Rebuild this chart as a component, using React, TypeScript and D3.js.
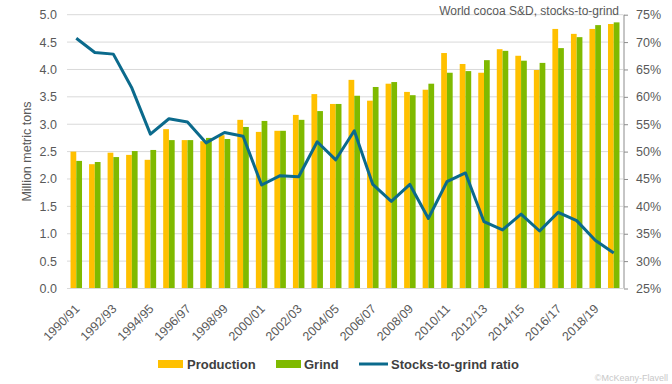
import React, { useEffect, useRef } from "react";
import * as d3 from "d3";

const seasons = [
  "1990/91", "1991/92", "1992/93", "1993/94", "1994/95", "1995/96", "1996/97", "1997/98",
  "1998/99", "1999/00", "2000/01", "2001/02", "2002/03", "2003/04", "2004/05", "2005/06",
  "2006/07", "2007/08", "2008/09", "2009/10", "2010/11", "2011/12", "2012/13", "2013/14",
  "2014/15", "2015/16", "2016/17", "2017/18", "2018/19", "2019/20",
];

const production = [
  2.5, 2.27, 2.48, 2.44, 2.35, 2.91, 2.71, 2.69, 2.8, 3.08, 2.86, 2.88, 3.17, 3.55, 3.37,
  3.81, 3.43, 3.74, 3.59, 3.63, 4.3, 4.1, 3.94, 4.37, 4.25, 3.99, 4.74, 4.65, 4.74, 4.83,
];

const grind = [
  2.33, 2.31, 2.4, 2.51, 2.53, 2.71, 2.71, 2.75, 2.73, 2.95, 3.06, 2.88, 3.08, 3.24, 3.37,
  3.52, 3.68, 3.77, 3.53, 3.74, 3.94, 3.97, 4.17, 4.34, 4.16, 4.12, 4.39, 4.59, 4.81, 4.86,
];

const stocksToGrind = [
  70.7, 68.1, 67.8, 61.6, 53.2, 56.0, 55.4, 51.6, 53.5, 52.8, 43.9, 45.6, 45.4, 51.8, 48.5,
  53.8, 44.0, 40.9, 44.0, 37.8, 44.5, 46.1, 37.2, 35.7, 38.6, 35.5, 38.9, 37.4, 33.8, 31.5,
];

const leftTicks = [0, 0.5, 1, 1.5, 2, 2.5, 3, 3.5, 4, 4.5, 5];
const rightTicks = [25, 30, 35, 40, 45, 50, 55, 60, 65, 70, 75];

const W = 672;
const H = 384;
const FONT = "'Liberation Sans', Arial, sans-serif";
const GREY = "#595959";
const C_PROD = "#FFC000";
const C_GRIND = "#7FBA00";
const C_LINE = "#0B6A8C";

export default function App() {
  const ref = useRef<SVGSVGElement>(null);

  useEffect(() => {
    const svg = d3.select(ref.current);
    svg.selectAll("*").remove();

    const left = 67;
    const right = 623;
    const top = 14.7;
    const bottom = 288.5;

    const x = d3.scaleBand().domain(seasons).range([left, right]).paddingInner(0.38).paddingOuter(0.19);
    const xs = d3.scaleBand().domain(["p", "g"]).range([0, x.bandwidth()]);
    const y = d3.scaleLinear().domain([0, 5]).range([bottom, top]);
    const y2 = d3.scaleLinear().domain([25, 75]).range([bottom, top]);

    // gridlines
    svg.append("g")
      .selectAll("line")
      .data(leftTicks.slice(1))
      .enter()
      .append("line")
      .attr("x1", left)
      .attr("x2", right)
      .attr("y1", (d) => y(d))
      .attr("y2", (d) => y(d))
      .attr("stroke", "#d9d9d9")
      .attr("stroke-width", 1);

    // bars
    const groups = svg.append("g")
      .selectAll("g")
      .data(seasons)
      .enter()
      .append("g")
      .attr("transform", (d) => `translate(${x(d)},0)`);

    groups.append("rect")
      .attr("x", xs("p")!)
      .attr("width", xs.bandwidth())
      .attr("y", (d, i) => y(production[i]))
      .attr("height", (d, i) => bottom - y(production[i]))
      .attr("fill", C_PROD);

    groups.append("rect")
      .attr("x", xs("g")!)
      .attr("width", xs.bandwidth())
      .attr("y", (d, i) => y(grind[i]))
      .attr("height", (d, i) => bottom - y(grind[i]))
      .attr("fill", C_GRIND);

    // baseline
    svg.append("line")
      .attr("x1", left)
      .attr("x2", right)
      .attr("y1", bottom)
      .attr("y2", bottom)
      .attr("stroke", "#d9d9d9");

    // line
    const line = d3.line<number>()
      .x((d, i) => x(seasons[i])! + x.bandwidth() / 2)
      .y((d) => y2(d));

    svg.append("path")
      .datum(stocksToGrind)
      .attr("d", line)
      .attr("fill", "none")
      .attr("stroke", C_LINE)
      .attr("stroke-width", 3)
      .attr("stroke-linejoin", "round");

    // left axis
    const yAxis = d3.axisLeft(y).tickValues(leftTicks).tickFormat(d3.format(".1f")).tickSize(0).tickPadding(10);
    const gl = svg.append("g").attr("transform", `translate(${left},0)`).call(yAxis);
    gl.select(".domain").remove();
    gl.selectAll("text").attr("font-family", FONT).attr("font-size", 12.5).attr("fill", GREY);

    // right axis
    const yAxis2 = d3.axisRight(y2).tickValues(rightTicks).tickFormat((d) => `${d}%`).tickSize(4).tickPadding(8);
    const gr = svg.append("g").attr("transform", `translate(${right + 1},0)`).call(yAxis2);
    gr.select(".domain").attr("stroke", "#8c8c8c").attr("d", `M0,${top}V${bottom}`);
    gr.selectAll(".tick line").attr("stroke", "#8c8c8c");
    gr.selectAll("text").attr("font-family", FONT).attr("font-size", 12.5).attr("fill", GREY);

    // x labels
    svg.append("g")
      .selectAll("text")
      .data(seasons.filter((d, i) => i % 2 === 0))
      .enter()
      .append("text")
      .attr("transform", (d) => `translate(${x(d)! + x.bandwidth() / 2 + 1},${bottom + 18}) rotate(-45)`)
      .attr("text-anchor", "end")
      .attr("dy", "0.35em")
      .attr("font-family", FONT)
      .attr("font-size", 12.5)
      .attr("fill", GREY)
      .text((d) => d);

    // y title
    svg.append("text")
      .attr("transform", `translate(31,${(top + bottom) / 2}) rotate(-90)`)
      .attr("text-anchor", "middle")
      .attr("font-family", FONT)
      .attr("font-size", 12.5)
      .attr("fill", GREY)
      .text("Million metric tons");

    // title
    svg.append("text")
      .attr("x", 619)
      .attr("y", 15)
      .attr("text-anchor", "end")
      .attr("font-family", FONT)
      .attr("font-size", 12)
      .attr("fill", GREY)
      .text("World cocoa S&D, stocks-to-grind");

    // legend
    const lg = svg.append("g").attr("font-family", FONT).attr("font-size", 13).attr("font-weight", "bold").attr("fill", "#404040");
    const ly = 364;
    lg.append("rect").attr("x", 158).attr("y", ly - 4).attr("width", 25).attr("height", 8).attr("fill", C_PROD);
    lg.append("text").attr("x", 187).attr("y", ly).attr("dy", "0.35em").text("Production");
    lg.append("rect").attr("x", 276).attr("y", ly - 4).attr("width", 25).attr("height", 8).attr("fill", C_GRIND);
    lg.append("text").attr("x", 304).attr("y", ly).attr("dy", "0.35em").text("Grind");
    lg.append("line").attr("x1", 359).attr("x2", 388).attr("y1", ly).attr("y2", ly).attr("stroke", C_LINE).attr("stroke-width", 3);
    lg.append("text").attr("x", 391).attr("y", ly).attr("dy", "0.35em").text("Stocks-to-grind ratio");

    // credit
    svg.append("text")
      .attr("x", 668)
      .attr("y", 381)
      .attr("text-anchor", "end")
      .attr("font-family", FONT)
      .attr("font-size", 9)
      .attr("fill", "#c8c8c8")
      .text("©McKeany-Flavell");
  }, []);

  return (
    <div style={{ position: "absolute", left: 0, top: 0 }}>
      <svg ref={ref} width={W} height={H} style={{ display: "block", background: "#fff" }} />
    </div>
  );
}
